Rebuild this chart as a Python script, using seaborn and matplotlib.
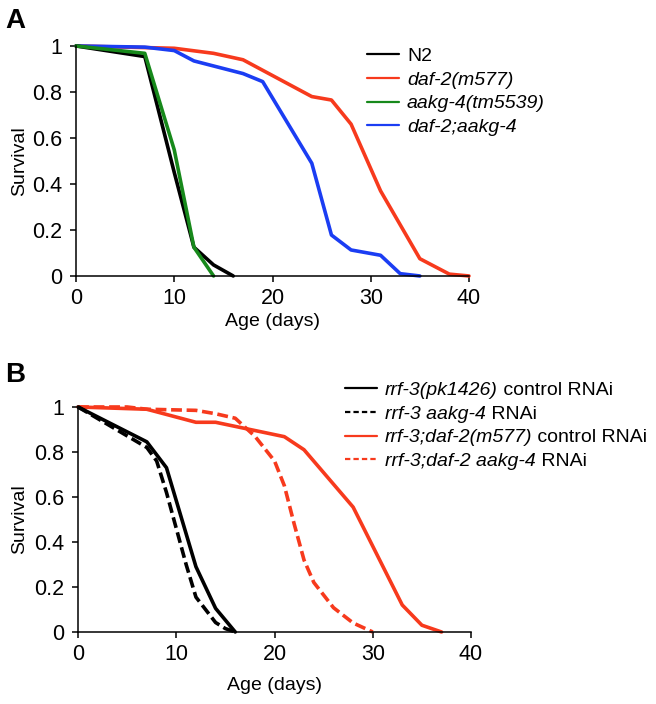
import matplotlib
matplotlib.use("Agg")
import matplotlib.pyplot as plt
from matplotlib.lines import Line2D
import seaborn as sns

# ─── DATA ──────────────────────────────────────────────────────────────────────
# Panel A
n2_days = [0, 7, 10, 12, 14, 16]
n2_surv = [1.0, 0.954, 0.45, 0.125, 0.048, 0.0]

daf2_days = [0, 10, 14, 17, 24, 26, 28, 31, 35, 38, 40]
daf2_surv = [1.0, 0.99, 0.968, 0.94, 0.78, 0.765, 0.66, 0.37, 0.075, 0.008, 0.0]

aakg4_days = [0, 7, 10, 12, 14]
aakg4_surv = [1.0, 0.968, 0.548, 0.125, 0.0]

double_days = [0, 7, 10, 12, 17, 19, 24, 26, 28, 31, 33, 35]
double_surv = [1.0, 0.995, 0.98, 0.935, 0.88, 0.845, 0.49, 0.178, 0.113, 0.09, 0.01, 0.0]

# Panel B
rrf3_ctrl_days = [0, 7, 9, 12, 14, 16]
rrf3_ctrl_surv = [1.0, 0.845, 0.73, 0.29, 0.105, 0.0]

rrf3_rnai_days = [0, 7, 8, 9, 10, 11, 12, 14, 15, 16]
rrf3_rnai_surv = [1.0, 0.82, 0.76, 0.62, 0.46, 0.30, 0.155, 0.042, 0.015, 0.0]

rrf3daf2_ctrl_days = [0, 7, 12, 14, 21, 23, 28, 33, 35, 37]
rrf3daf2_ctrl_surv = [1.0, 0.99, 0.932, 0.932, 0.868, 0.81, 0.555, 0.12, 0.03, 0.0]

rrf3daf2_rnai_days = [0, 5, 7, 12, 14, 16, 18, 20, 21, 22, 23, 24, 26, 28, 30]
rrf3daf2_rnai_surv = [1.0, 1.0, 0.99, 0.985, 0.97, 0.95, 0.87, 0.76, 0.65, 0.48,
                      0.32, 0.22, 0.108, 0.04, 0.0]

X_TICKS = [0, 10, 20, 30, 40]
Y_TICKS = [0, 0.2, 0.4, 0.6, 0.8, 1.0]
Y_TICK_LABELS = ["0", "0.2", "0.4", "0.6", "0.8", "1"]

RED = "#F73A1D"
GREEN = "#17891B"
BLUE = "#1B3DF3"
BLACK = "#000000"

# ─── STYLE ─────────────────────────────────────────────────────────────────────
sns.set_style("ticks")
plt.rcParams["font.family"] = ["Liberation Sans", "DejaVu Sans"]
plt.rcParams["text.color"] = "black"
plt.rcParams["axes.labelcolor"] = "black"
plt.rcParams["axes.edgecolor"] = "black"
plt.rcParams["xtick.color"] = "black"
plt.rcParams["ytick.color"] = "black"
plt.rcParams["axes.linewidth"] = 1.1
plt.rcParams["xtick.major.width"] = 1.1
plt.rcParams["ytick.major.width"] = 1.1
plt.rcParams["xtick.major.size"] = 4
plt.rcParams["ytick.major.size"] = 4
plt.rcParams["xtick.major.pad"] = 5
plt.rcParams["ytick.major.pad"] = 6

FS = 14
TICK_FS = 15.5
LW = 2.6


def style_axes(ax, xlabel_y, ylabel_x):
    ax.set_xlim(0, 40)
    ax.set_ylim(0, 1)
    ax.set_xticks(X_TICKS)
    ax.set_yticks(Y_TICKS)
    ax.set_yticklabels(Y_TICK_LABELS)
    ax.tick_params(labelsize=TICK_FS, colors="black", direction="out")
    ax.set_xlabel("Age (days)", fontsize=FS)
    ax.set_ylabel("Survival", fontsize=FS)
    ax.xaxis.set_label_coords(0.5, xlabel_y)
    ax.yaxis.set_label_coords(ylabel_x, 0.5)
    sns.despine(ax=ax)
    ax.grid(False)


def draw(ax, days, surv, color, dashed=False):
    sns.lineplot(x=days, y=surv, ax=ax, color=color, linewidth=LW,
                 estimator=None, sort=False, clip_on=False)
    if dashed:
        ax.lines[-1].set_dashes((3.0, 1.3))


fig = plt.figure(figsize=(6.56, 7.04), dpi=100)

# ─── PANEL A ───────────────────────────────────────────────────────────────────
axA = fig.add_axes([0.1159, 0.608, 0.599, 0.3267])
draw(axA, daf2_days, daf2_surv, RED)
draw(axA, double_days, double_surv, BLUE)
draw(axA, n2_days, n2_surv, BLACK)
draw(axA, aakg4_days, aakg4_surv, GREEN)
style_axes(axA, -0.16, -0.122)

handlesA = [Line2D([], [], color=c, lw=1.6) for c in [BLACK, RED, GREEN, BLUE]]
labelsA = ["N2", "daf-2(m577)", "aakg-4(tm5539)", "daf-2;aakg-4"]
legA = axA.legend(handlesA, labelsA, loc="upper left",
                  bbox_to_anchor=(0.5595, 0.933), bbox_transform=fig.transFigure,
                  frameon=False, fontsize=FS, handlelength=1.65,
                  handletextpad=0.4, labelspacing=0.32, borderpad=0,
                  borderaxespad=0, labelcolor="black")
for t in legA.get_texts()[1:]:
    t.set_fontstyle("italic")

# ─── PANEL B ───────────────────────────────────────────────────────────────────
axB = fig.add_axes([0.119, 0.1023, 0.599, 0.3196])
draw(axB, rrf3daf2_ctrl_days, rrf3daf2_ctrl_surv, RED)
draw(axB, rrf3daf2_rnai_days, rrf3daf2_rnai_surv, RED, dashed=True)
draw(axB, rrf3_ctrl_days, rrf3_ctrl_surv, BLACK)
draw(axB, rrf3_rnai_days, rrf3_rnai_surv, BLACK, dashed=True)
style_axes(axB, -0.2, -0.127)

handlesB = [Line2D([], [], color=BLACK, lw=1.6),
            Line2D([], [], color=BLACK, lw=1.6, dashes=(2.4, 1.4)),
            Line2D([], [], color=RED, lw=1.6),
            Line2D([], [], color=RED, lw=1.6, dashes=(2.4, 1.4))]
labelsB = ["rrf-3(pk1426)", "rrf-3 aakg-4", "rrf-3;daf-2(m577)", "rrf-3;daf-2 aakg-4"]
suffixB = [" control RNAi", " RNAi", " control RNAi", " RNAi"]
legB = axB.legend(handlesB, labelsB, loc="upper left",
                  bbox_to_anchor=(0.526, 0.458), bbox_transform=fig.transFigure,
                  frameon=False, fontsize=FS, handlelength=1.65,
                  handletextpad=0.4, labelspacing=0.31, borderpad=0,
                  borderaxespad=0, prop={"style": "italic", "size": FS},
                  labelcolor="black")
for t, suf in zip(legB.get_texts(), suffixB):
    axB.annotate(suf, xy=(1, 0), xycoords=t, ha="left", va="bottom",
                 fontsize=FS, color="black", zorder=10, annotation_clip=False)

# ─── PANEL LETTERS ─────────────────────────────────────────────────────────────
fig.text(0.008, 0.989, "A", fontsize=20, fontweight="bold", va="top", color="black")
fig.text(0.008, 0.486, "B", fontsize=20, fontweight="bold", va="top", color="black")

fig.savefig("out.png", dpi=100)
